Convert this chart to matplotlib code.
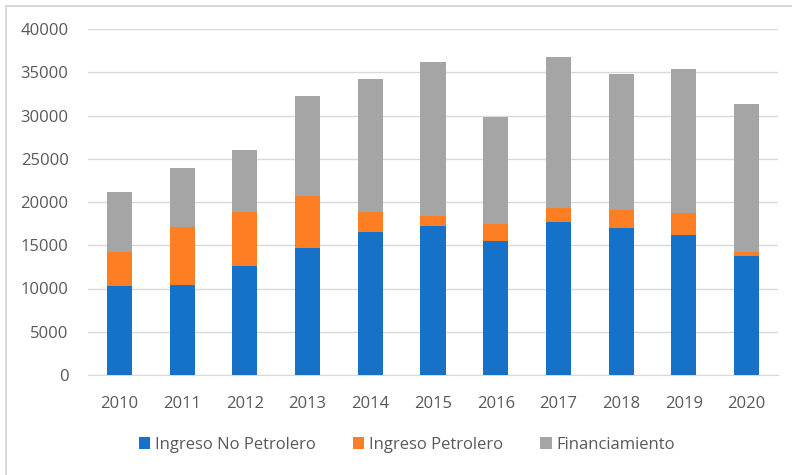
import matplotlib.pyplot as plt
import numpy as np
from matplotlib.patches import Rectangle

anos = ['2010', '2011', '2012', '2013', '2014', '2015', '2016', '2017', '2018', '2019', '2020']
no_petrolero = [10300, 10400, 12600, 14700, 16500, 17200, 15500, 17700, 17000, 16200, 13700]
petrolero = [3900, 6700, 6200, 6000, 2400, 1200, 2000, 1600, 2100, 2500, 500]
financiamiento = [7000, 6800, 7200, 11500, 15300, 17800, 12300, 17500, 15700, 16700, 17100]

plt.rcParams['font.family'] = ['Open Sans', 'DejaVu Sans']

fig = plt.figure(figsize=(7.92, 4.75), dpi=100)
ax = fig.add_axes([88/792, 1-375/475, 690/792, 346/475])

x = np.arange(len(anos))
w = 0.40
base2 = np.array(no_petrolero) + np.array(petrolero)
ax.bar(x, no_petrolero, w, color='#1672C9', label='Ingreso No Petrolero', zorder=3)
ax.bar(x, petrolero, w, bottom=no_petrolero, color='#FD7E23', label='Ingreso Petrolero', zorder=3)
ax.bar(x, financiamiento, w, bottom=base2, color='#A5A5A5', label='Financiamiento', zorder=3)

ax.set_xlim(-0.5, len(anos) - 0.5)
ax.set_ylim(0, 40000)
ax.set_yticks(range(0, 40001, 5000))
ax.set_xticks(x)
ax.set_xticklabels(anos)
ax.grid(axis='y', color='#D9D9D9', linewidth=1, zorder=0)
for s in ['top', 'right', 'left']:
    ax.spines[s].set_visible(False)
ax.spines['bottom'].set_color('#D9D9D9')
ax.tick_params(axis='both', length=0, labelsize=12, colors='#595959')
ax.tick_params(axis='y', pad=14)
ax.tick_params(axis='x', pad=15)

leg = fig.legend(loc='center', bbox_to_anchor=(407/792, 1-445/475), ncol=3, frameon=False,
                 fontsize=12, handlelength=0.7, handleheight=0.7, handletextpad=0.3,
                 columnspacing=2.2, labelcolor='#595959')

# marco gris alrededor
fig.patches.append(Rectangle((6/792, -0.1), 1.2, 1 - 6/475 + 0.1, transform=fig.transFigure,
                             fill=False, edgecolor='#D9D9D9', linewidth=1.5))

plt.savefig('out.png', dpi=100)
